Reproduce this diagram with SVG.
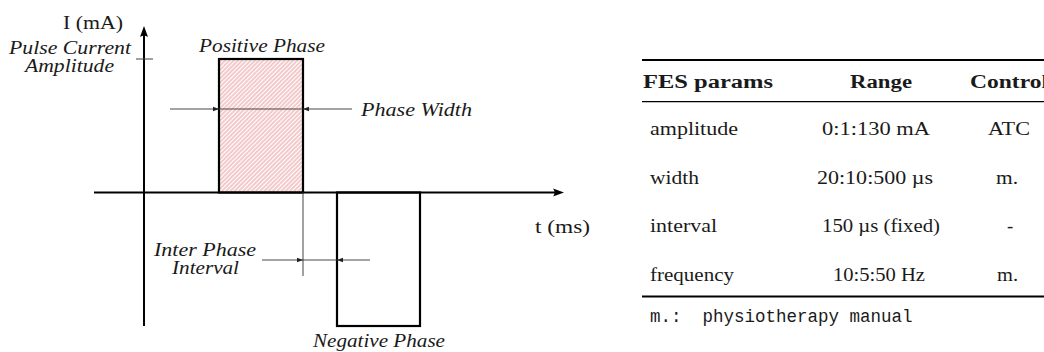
<svg xmlns="http://www.w3.org/2000/svg" width="1044" height="352" viewBox="0 0 1044 352">
  <style>
    .it { font-family: "Liberation Serif", "Times New Roman", serif; font-style: italic; font-size: 18.5px; fill: #1a1a1a; }
    .rm { font-family: "Liberation Serif", "Times New Roman", serif; font-size: 18.5px; fill: #1a1a1a; }
    .bf { font-family: "Liberation Serif", "Times New Roman", serif; font-weight: bold; font-size: 18.5px; fill: #1a1a1a; }
    .tt { font-family: "Liberation Mono", "Courier New", monospace; font-size: 17.5px; fill: #1a1a1a; white-space: pre; }
    .axis { stroke: #000; stroke-width: 2; fill: none; }
    .phase { stroke: #000; stroke-width: 2.2; }
    .dim { stroke: #333; stroke-width: 0.9; fill: none; }
    .thin { stroke: #444; stroke-width: 1; fill: none; }
    .rule-thick { stroke: #000; stroke-width: 2; }
    .rule-thin { stroke: #000; stroke-width: 1.2; }
  </style>
  <defs>
    <pattern id="hatch" patternUnits="userSpaceOnUse" width="3" height="3" patternTransform="rotate(45)">
      <line x1="1" y1="0" x2="1" y2="3" stroke="#e07b7b" stroke-width="0.8"/>
    </pattern>
    <marker id="dimArrow" markerUnits="userSpaceOnUse" markerWidth="6" markerHeight="6" viewBox="0 0 6 6" refX="6" refY="3" orient="auto">
      <path d="M0,0.8 L6,3 L0,5.2 Z" fill="#222"/>
    </marker>
  </defs>

  <g id="axes">
    <line class="axis" x1="144" y1="326" x2="144" y2="33"/>
    <path d="M144,26 L148,37 Q144,34 140,37 Z" fill="#000"/>
    <line class="axis" x1="94" y1="192.5" x2="557" y2="192.5"/>
    <path d="M564,192.5 L553,196.5 Q556,192.5 553,188.5 Z" fill="#000"/>
    <line class="thin" x1="136" y1="59" x2="153" y2="59"/>
  </g>

  <g id="positive-phase">
    <rect x="219" y="59" width="84" height="133.5" fill="url(#hatch)" class="phase"/>
  </g>

  <g id="negative-phase">
    <rect x="337" y="192.5" width="83" height="133.5" fill="none" class="phase"/>
  </g>

  <g id="connectors">
    <line class="dim" x1="170" y1="109" x2="219" y2="109" marker-end="url(#dimArrow)"/>
    <line class="dim" x1="219" y1="109" x2="303" y2="109"/>
    <line class="dim" x1="352" y1="109" x2="303" y2="109" marker-end="url(#dimArrow)"/>
    <line class="thin" x1="303" y1="192.5" x2="303" y2="276"/>
    <line class="dim" x1="262" y1="260" x2="303" y2="260" marker-end="url(#dimArrow)"/>
    <line class="dim" x1="303" y1="260" x2="337" y2="260"/>
    <line class="dim" x1="370" y1="260" x2="337" y2="260" marker-end="url(#dimArrow)"/>
  </g>

  <g id="labels">
    <text class="rm" x="63" y="28.5" textLength="60" lengthAdjust="spacingAndGlyphs">I (mA)</text>
    <text class="it" x="9" y="54" textLength="122" lengthAdjust="spacingAndGlyphs">Pulse Current</text>
    <text class="it" x="25" y="72" textLength="89" lengthAdjust="spacingAndGlyphs">Amplitude</text>
    <text class="it" x="199" y="52" textLength="126" lengthAdjust="spacingAndGlyphs">Positive Phase</text>
    <text class="it" x="361" y="116" textLength="111" lengthAdjust="spacingAndGlyphs">Phase Width</text>
    <text class="rm" x="535" y="233" textLength="55" lengthAdjust="spacingAndGlyphs">t (ms)</text>
    <text class="it" x="154" y="255.5" textLength="102" lengthAdjust="spacingAndGlyphs">Inter Phase</text>
    <text class="it" x="172" y="273.5" textLength="67" lengthAdjust="spacingAndGlyphs">Interval</text>
    <text class="it" x="313" y="347" textLength="132" lengthAdjust="spacingAndGlyphs">Negative Phase</text>
  </g>

  <g id="table">
    <line class="rule-thick" x1="642" y1="60" x2="1044" y2="60"/>
    <line class="rule-thin" x1="642" y1="101.7" x2="1044" y2="101.7"/>
    <line class="rule-thick" x1="642" y1="296.5" x2="1044" y2="296.5"/>

    <text class="bf" x="643" y="88" textLength="130" lengthAdjust="spacingAndGlyphs">FES params</text>
    <text class="bf" x="850" y="88" textLength="62" lengthAdjust="spacingAndGlyphs">Range</text>
    <text class="bf" x="970" y="88" textLength="78" lengthAdjust="spacingAndGlyphs">Control</text>

    <text class="rm" x="650" y="135" textLength="88" lengthAdjust="spacingAndGlyphs">amplitude</text>
    <text class="rm" x="822" y="135" textLength="108" lengthAdjust="spacingAndGlyphs">0:1:130 mA</text>
    <text class="rm" x="988" y="135" textLength="42" lengthAdjust="spacingAndGlyphs">ATC</text>

    <text class="rm" x="650" y="183.5" textLength="49" lengthAdjust="spacingAndGlyphs">width</text>
    <text class="rm" x="817" y="183.5" textLength="116" lengthAdjust="spacingAndGlyphs">20:10:500 µs</text>
    <text class="rm" x="996" y="183.5" textLength="22" lengthAdjust="spacingAndGlyphs">m.</text>

    <text class="rm" x="650" y="232" textLength="67" lengthAdjust="spacingAndGlyphs">interval</text>
    <text class="rm" x="822" y="232" textLength="118" lengthAdjust="spacingAndGlyphs">150 µs (fixed)</text>
    <text class="rm" x="1007" y="232">-</text>

    <text class="rm" x="650" y="281" textLength="84" lengthAdjust="spacingAndGlyphs">frequency</text>
    <text class="rm" x="833" y="281" textLength="92" lengthAdjust="spacingAndGlyphs">10:5:50 Hz</text>
    <text class="rm" x="997" y="281" textLength="21" lengthAdjust="spacingAndGlyphs">m.</text>

    <text class="tt" x="650" y="322" xml:space="preserve">m.:  physiotherapy manual</text>
  </g>
</svg>
